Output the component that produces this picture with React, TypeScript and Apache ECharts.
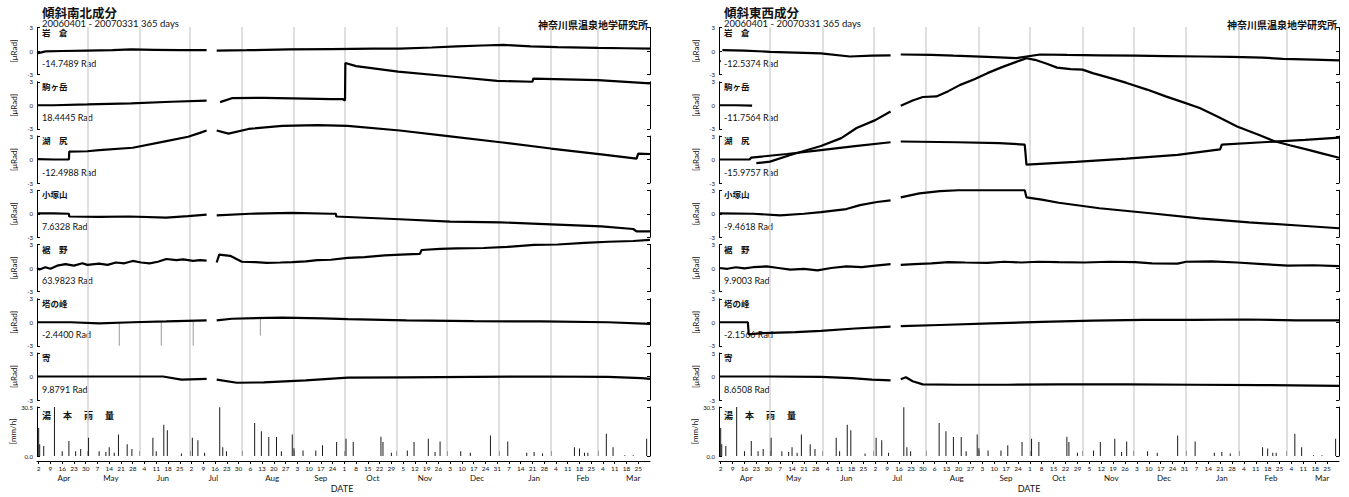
import React, { useEffect, useRef } from 'react';
import * as echarts from 'echarts';

// ---------- data (day index: 0 = 2006-04-01) ----------
const stationNames = ['岩　倉', '駒ヶ岳', '湖　尻', '小塚山', '裾　野', '塔の峰', '寄'];
const nsOffsets = [-14.7489, 18.4445, -12.4988, 7.6328, 63.9823, -2.44, 9.8791];
const ewOffsets = [-12.5374, -11.7564, -15.9757, -9.4618, 9.9003, -2.1566, 8.6508];

const monthStarts = [30, 61, 91, 122, 153, 183, 214, 244, 275, 306, 334];
const monthLabelDays = [16, 44, 75, 105, 140, 169, 200, 231, 262, 296, 325, 355];
const monthNames = ['Apr', 'May', 'Jun', 'Jul', 'Aug', 'Sep', 'Oct', 'Nov', 'Dec', 'Jan', 'Feb', 'Mar'];
const weekTickDays = [1, 8, 15, 22, 29, 36, 43, 50, 57, 64, 71, 78, 85, 92, 99, 106, 113, 120, 127, 134, 141, 148, 155, 162, 169, 176, 183, 190, 197, 204, 211, 218, 225, 232, 239, 246, 253, 260, 267, 274, 281, 288, 295, 302, 309, 316, 323, 330, 337, 344, 351, 358];
const weekTickLabels = ['2', '9', '16', '23', '30', '7', '14', '21', '28', '4', '11', '18', '25', '2', '9', '16', '23', '30', '6', '13', '20', '27', '3', '10', '17', '24', '1', '8', '15', '22', '29', '5', '12', '19', '26', '3', '10', '17', '24', '31', '7', '14', '21', '28', '4', '11', '18', '25', '4', '11', '18', '25'];

// 南北成分 [day, µRad]
const nsIwakura = [[0, -0.3], [2, -0.2], [5, -0.05], [15, 0.0], [30, 0.05], [45, 0.1], [56, 0.2], [70, 0.15], [85, 0.1], [101, 0.1], [104, '-'], [107, 0.05], [125, 0.1], [150, 0.2], [175, 0.25], [200, 0.3], [216, 0.3], [235, 0.45], [250, 0.6], [265, 0.7], [278, 0.77], [294, 0.6], [310, 0.5], [334, 0.4], [350, 0.35], [365, 0.3]];
const nsKomagatake = [[0, 0.0], [10, 0.0], [30, 0.1], [56, 0.25], [80, 0.45], [101, 0.6], [104, '-'], [109, 0.4], [116, 0.9], [135, 0.95], [160, 0.85], [175, 0.77], [182, 0.8], [183.4, 0.6], [183.6, 5.4], [190, 5.0], [215, 4.3], [245, 3.7], [274, 3.1], [295, 3.0], [295.5, 3.4], [334, 3.2], [365, 2.8]];
const nsKojiri = [[0, 0.05], [10, 0.0], [19, 0.0], [19.2, 1.0], [30, 1.05], [37, 1.2], [57, 1.5], [77, 2.35], [90, 2.9], [97, 3.4], [101, 3.7], [104, '-'], [107, 3.7], [114, 3.3], [126, 3.9], [146, 4.3], [167, 4.4], [185, 4.3], [216, 3.7], [246, 2.95], [276, 2.2], [306, 1.4], [336, 0.65], [357, 0.1], [358, 0.75], [365, 0.7]];
const nsKozukayama = [[0, 0.05], [10, 0.05], [19, 0.0], [19.2, -0.35], [37, -0.4], [55, -0.35], [77, -0.5], [90, -0.3], [101, -0.1], [104, '-'], [107, -0.2], [127, 0.0], [152, 0.1], [175, 0.0], [178, 0.0], [178.2, -0.35], [216, -0.7], [246, -1.0], [276, -1.1], [306, -1.35], [336, -1.6], [355, -1.95], [357, -2.25], [365, -2.25]];
const nsSusono = [[0, 0.0], [1.5, -0.2], [5, 0.1], [8, -0.1], [12, 0.3], [17, 0.5], [22, 0.3], [27, 0.6], [30, 0.4], [37, 0.55], [42, 0.4], [47, 0.7], [52, 0.6], [57, 0.9], [62, 0.7], [67, 0.6], [72, 0.8], [77, 1.15], [83, 1.0], [87, 1.1], [93, 0.9], [97, 1.0], [101, 0.95], [104, '-'], [107, 0.7], [108.5, 1.7], [115, 1.55], [122, 0.8], [130, 0.75], [137, 0.65], [145, 0.7], [152, 0.75], [160, 0.85], [167, 1.0], [175, 1.05], [185, 1.3], [195, 1.4], [207, 1.6], [220, 1.75], [228, 1.8], [229, 2.3], [240, 2.45], [250, 2.5], [266, 2.55], [280, 2.7], [296, 2.95], [310, 3.0], [326, 3.2], [340, 3.35], [355, 3.45], [365, 3.6]];
const nsTonomine = [[0, 0.0], [20, 0.0], [37, -0.15], [57, 0.0], [77, 0.1], [101, 0.25], [104, '-'], [107, 0.25], [116, 0.45], [146, 0.6], [170, 0.5], [185, 0.4], [220, 0.25], [260, 0.15], [300, 0.1], [340, 0.0], [365, -0.2]];
const nsTonomineSpikes = [[49, 0], [49, -3], [49.5, '-'], [74, 0], [74, -3], [74.5, '-'], [93, 0.1], [93, -3], [93.5, '-'], [133, 0.5], [133, -1.7]];
const nsYadoriki = [[0, 0.0], [30, 0.0], [60, 0.0], [75, 0.0], [86, -0.4], [101, -0.3], [104, '-'], [107, -0.4], [119, -0.8], [135, -0.75], [160, -0.5], [185, -0.15], [220, -0.1], [260, -0.05], [300, 0.0], [340, -0.05], [360, -0.2], [365, -0.3]];

// 東西成分 [day, µRad]
const ewIwakura = [[0, -1.3], [1, -1.3], [1.5, '-'], [2, 0.1], [15, 0.05], [30, -0.1], [45, -0.2], [60, -0.3], [77, -0.7], [90, -0.6], [101, -0.55], [104, '-'], [107, -0.45], [125, -0.5], [138, -0.6], [158, -0.75], [175, -0.9], [189, -0.45], [205, -0.5], [224, -0.55], [245, -0.6], [263, -0.65], [285, -0.7], [302, -0.75], [320, -0.85], [332, -1.0], [350, -1.1], [365, -1.2]];
const ewKomagatake = [[0, 0.0], [10, 0.0], [19.5, -0.05], [20, '-'], [22, -7.4], [30, -7.2], [42, -6.35], [60, -5.2], [72, -4.2], [81, -2.9], [92, -1.9], [101, -0.8], [104, '-'], [107, -0.06], [114, 0.6], [120, 1.05], [128, 1.13], [135, 1.8], [142, 2.6], [150, 3.3], [158, 4.1], [167, 4.9], [177, 5.7], [181, 6.0], [186, 5.8], [193, 5.3], [199, 4.8], [207, 4.6], [214, 4.55], [220, 4.1], [230, 3.5], [240, 2.85], [252, 2.0], [263, 1.13], [273, 0.4], [283, -0.36], [294, -1.5], [305, -2.7], [318, -3.8], [327, -4.6], [336, -5.1], [347, -5.7], [356, -6.2], [365, -6.7]];
const ewKojiri = [[0, 0.0], [18, 0.0], [19, 0.25], [40, 0.7], [60, 1.2], [80, 1.7], [101, 2.2], [104, '-'], [107, 2.3], [140, 2.2], [165, 2.1], [180, 1.9], [181, -0.65], [210, -0.3], [240, 0.1], [270, 0.6], [295, 1.3], [296, 1.9], [320, 2.2], [345, 2.5], [365, 2.8]];
const ewKozukayama = [[0, 0.05], [20, 0.0], [36, -0.2], [50, 0.0], [60, 0.2], [75, 0.6], [83, 1.1], [93, 1.5], [101, 1.7], [104, '-'], [107, 2.1], [118, 2.6], [130, 2.9], [141, 3.0], [158, 3.0], [170, 3.0], [180, 3.0], [181, 2.1], [190, 1.8], [200, 1.4], [224, 0.7], [254, 0.06], [283, -0.6], [312, -1.1], [341, -1.5], [365, -1.85]];
const ewSusono = [[0, 0.0], [5, -0.1], [10, 0.1], [15, -0.05], [20, 0.1], [28, 0.2], [35, 0.0], [42, -0.2], [50, -0.1], [58, -0.3], [66, 0.0], [75, 0.2], [84, 0.1], [92, 0.3], [101, 0.5], [104, '-'], [107, 0.4], [115, 0.5], [125, 0.6], [135, 0.75], [145, 0.7], [158, 0.65], [168, 0.8], [178, 0.7], [188, 0.8], [200, 0.75], [215, 0.7], [230, 0.8], [245, 0.75], [255, 0.6], [270, 0.55], [275, 0.8], [290, 0.85], [305, 0.7], [320, 0.5], [335, 0.3], [350, 0.35], [365, 0.25]];
const ewTonomine = [[0, 0.0], [10, 0.0], [17, 0.0], [17.5, -1.55], [25, -1.4], [45, -1.25], [60, -1.1], [80, -0.8], [101, -0.55], [104, '-'], [107, -0.5], [130, -0.35], [160, -0.15], [190, 0.05], [220, 0.2], [250, 0.3], [280, 0.3], [310, 0.35], [340, 0.25], [365, 0.25]];
const ewYadoriki = [[0, 0.0], [30, 0.0], [60, -0.05], [78, -0.2], [90, -0.4], [101, -0.5], [104, '-'], [107, -0.35], [110, -0.1], [114, -0.6], [120, -1.0], [140, -1.05], [170, -1.05], [200, -1.0], [240, -1.0], [280, -1.05], [320, -1.1], [365, -1.2]];

// 湯本雨量 [day, mm/h]
const rainfall = [[1, 17.5], [1.6, 7.3], [4, 6.3], [10.4, 30.5], [15, 3], [19, 9.3], [23, 3], [26, 4.3], [30.7, 11.4], [37, 3], [41, 2.5], [43, 5.5], [46, 2], [48.5, 13.4], [53.7, 7.3], [56.5, 4.3], [69, 11.4], [71, 3], [75.5, 19.5], [77.6, 16], [86, 1.5], [92.5, 11.4], [95.8, 9.8], [99.8, 2], [108.8, 30.3], [110.6, 5.5], [112.8, 3], [129.6, 20.5], [133.6, 15.4], [138, 11.8], [142.6, 11.8], [145.5, 3], [152, 13.4], [153, 4.8], [158.4, 3.5], [166, 3.5], [170, 6.7], [178.4, 8.7], [184, 10.8], [188.3, 8.7], [204.8, 12], [206, 8.7], [211, 2], [220.5, 3.5], [224.5, 8.7], [233, 10.8], [237, 2.5], [240, 9], [252.3, 3], [258, 2], [270, 12.8], [280.3, 9], [291.6, 2], [296, 2.5], [301, 1.5], [320, 5.5], [323, 4.6], [326, 2], [328, 2], [339, 13.8], [343, 5.5], [350, 0.5], [355, 0.5], [363, 10.8]];

const nsSeries = [nsIwakura, nsKomagatake, nsKojiri, nsKozukayama, nsSusono, nsTonomine, nsYadoriki];
const ewSeries = [ewIwakura, ewKomagatake, ewKojiri, ewKozukayama, ewSusono, ewTonomine, ewYadoriki];

// ---------- layout ----------
const FONT = 'Lato, "Noto Sans CJK JP", sans-serif';
const STRIP_TOP0 = 27.5;
const STRIP_PITCH = 54.25;
const STRIP_H = 47;
const RAIN_TOP = 407;
const RAIN_H = 49;
const INK = '#111';

function txt(x: number, y: number, text: string, size: number, opts: any = {}) {
  return {
    type: 'text',
    x,
    y,
    silent: true,
    style: {
      text,
      fill: opts.fill || INK,
      fontSize: size,
      fontFamily: FONT,
      fontWeight: opts.bold ? 'bold' : 'normal',
      align: opts.align || 'left',
      textAlign: opts.align || 'left',
      verticalAlign: 'middle',
      textVerticalAlign: 'middle',
    },
  };
}

function buildOption() {
  const panels = [
    { left: 37, width: 613, title: '傾斜南北成分', data: nsSeries, offsets: nsOffsets, dateX: 342, spikes: { 5: nsTonomineSpikes } as any },
    { left: 719, width: 620, title: '傾斜東西成分', data: ewSeries, offsets: ewOffsets, dateX: 1029, spikes: {} as any },
  ];
  const grid: any[] = [];
  const xAxis: any[] = [];
  const yAxis: any[] = [];
  const series: any[] = [];
  const graphic: any[] = [];

  panels.forEach((p) => {
    const right = p.left + p.width;
    graphic.push(txt(p.left + 5, 13, p.title, 12.5, { bold: true }));
    graphic.push(txt(p.left + 5, 23.5, '20060401 - 20070331 365 days', 9.5));
    graphic.push(txt(right - 2, 24.5, '神奈川県温泉地学研究所', 10, { bold: true, align: 'right' }));

    for (let s = 0; s < 8; s++) {
      const isRain = s === 7;
      const top = isRain ? RAIN_TOP : STRIP_TOP0 + STRIP_PITCH * s;
      const h = isRain ? RAIN_H : STRIP_H;
      const gi = grid.length;
      grid.push({ left: p.left, top, width: p.width, height: h, containLabel: false });
      const xi = xAxis.length;
      if (!isRain) {
        xAxis.push({ gridIndex: gi, type: 'value', min: 0, max: 365, show: false });
      } else {
        xAxis.push({
          gridIndex: gi, type: 'value', min: 0, max: 365, position: 'bottom', offset: 5,
          axisLine: { show: true, onZero: false, lineStyle: { color: '#000', width: 1 } },
          axisTick: { show: true, customValues: weekTickDays, length: 3, lineStyle: { color: '#000', width: 1 } },
          axisLabel: {
            show: true, customValues: weekTickDays, fontSize: 6.5, margin: 4, color: INK, fontFamily: FONT,
            formatter: (v: number) => weekTickLabels[weekTickDays.indexOf(Math.round(v))] ?? '',
          },
          splitLine: { show: false },
        });
      }
      const yi = yAxis.length;
      yAxis.push({
        gridIndex: gi, type: 'value', position: 'left',
        min: isRain ? 0 : -3, max: isRain ? 30.5 : 3, interval: isRain ? 30.5 : 3,
        name: isRain ? '[mm/h]' : '[μRad]', nameLocation: 'middle', nameGap: 19, nameRotate: 90,
        nameTextStyle: { fontSize: 8, color: INK, fontFamily: FONT },
        axisLine: { show: true, onZero: false, lineStyle: { color: '#000', width: 1 } },
        axisTick: { show: true, inside: true, length: 3, lineStyle: { color: '#000' } },
        axisLabel: {
          show: true, fontSize: 6, margin: 4, color: INK, fontFamily: FONT,
          formatter: (v: number) => (isRain ? v.toFixed(1) : String(v)),
        },
        splitLine: { show: false },
      });
      yAxis.push({
        gridIndex: gi, type: 'value', position: 'right',
        min: isRain ? 0 : -3, max: isRain ? 30.5 : 3, interval: isRain ? 30.5 : 3,
        axisLine: { show: true, onZero: false, lineStyle: { color: '#000', width: 1 } },
        axisTick: { show: true, inside: true, length: 3, lineStyle: { color: '#000' } },
        axisLabel: { show: false },
        splitLine: { show: false },
      });

      if (!isRain) {
        if (p.spikes[s]) {
          series.push({
            type: 'line', xAxisIndex: xi, yAxisIndex: yi, data: p.spikes[s],
            showSymbol: false, symbol: 'none', clip: false, connectNulls: false, z: 4,
            lineStyle: { color: '#9a9a9a', width: 1 }, silent: true,
          });
        }
        series.push({
          type: 'line', xAxisIndex: xi, yAxisIndex: yi, data: p.data[s],
          showSymbol: false, symbol: 'none', clip: false, connectNulls: false, z: 5,
          lineStyle: { color: '#000', width: 2.2 }, silent: true,
        });
        graphic.push(txt(p.left + 5, top + 5, stationNames[s], 8.5, { bold: true }));
        graphic.push(txt(p.left + 5, top + 36, p.offsets[s].toFixed(4) + ' Rad', 9));
      } else {
        series.push({
          type: 'bar', xAxisIndex: xi, yAxisIndex: yi, data: rainfall,
          barWidth: 1, itemStyle: { color: '#1a1a1a' }, z: 5, silent: true,
        });
        ['湯', '本', '雨', '量'].forEach((c, k) => {
          graphic.push(txt(p.left + 5 + k * 21, top + 8, c, 9, { bold: true }));
        });
      }
    }

    // overlay grid: month grid lines + month ticks/labels
    const gi = grid.length;
    grid.push({ left: p.left, top: 27, width: p.width, height: RAIN_TOP + RAIN_H - 27 });
    const xi = xAxis.length;
    xAxis.push({
      gridIndex: gi, type: 'value', min: 0, max: 365, position: 'bottom', offset: 5,
      axisLine: { show: false },
      axisTick: { show: true, inside: true, customValues: monthStarts, length: 5, lineStyle: { color: '#000', width: 1 } },
      axisLabel: {
        show: true, customValues: monthLabelDays, fontSize: 8, margin: 13, color: INK, fontFamily: FONT,
        formatter: (v: number) => monthNames[monthLabelDays.indexOf(Math.round(v))] ?? '',
      },
      splitLine: { show: false },
    });
    const yi = yAxis.length;
    yAxis.push({ gridIndex: gi, type: 'value', min: 0, max: 1, show: false });
    series.push({
      type: 'line', xAxisIndex: xi, yAxisIndex: yi, data: [[0, -1]], z: 1,
      showSymbol: false, symbol: 'none', lineStyle: { opacity: 0 }, silent: true,
      markLine: {
        silent: true, symbol: ['none', 'none'], label: { show: false },
        lineStyle: { color: '#d4d4d4', width: 1.5, type: 'solid' },
        data: monthStarts.map((d) => ({ xAxis: d })),
      },
    });
    graphic.push(txt(p.dateX, 488.5, 'DATE', 9, { align: 'center' }));
  });

  return {
    animation: false,
    backgroundColor: '#fff',
    grid, xAxis, yAxis, series, graphic,
  };
}

export default function App() {
  const ref = useRef<HTMLDivElement>(null);
  useEffect(() => {
    document.body.style.margin = '0';
    const chart = echarts.init(ref.current as HTMLDivElement, null, { renderer: 'svg' });
    chart.setOption(buildOption() as any);
    return () => chart.dispose();
  }, []);
  return <div ref={ref} style={{ width: 1349, height: 497, background: '#fff' }} />;
}
